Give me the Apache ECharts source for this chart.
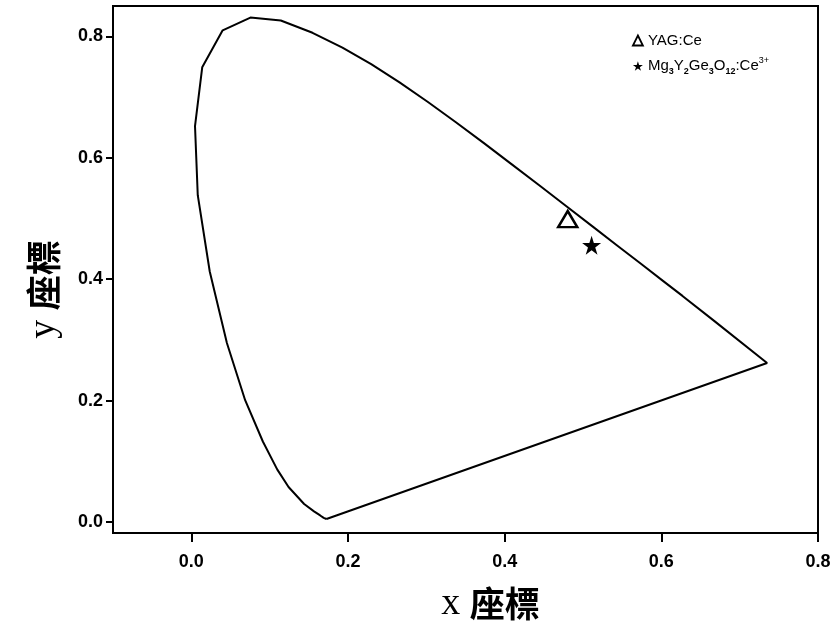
<!DOCTYPE html>
<html>
<head>
<meta charset="utf-8">
<script src="https://cdn.jsdelivr.net/npm/echarts@6/dist/echarts.min.js"></script>
<style>html,body{margin:0;padding:0;background:#fff}#c{width:837px;height:637px}</style>
</head>
<body>
<div id="c"></div>
<script>
// Chromaticity locus outline (x, y)
const locusX = [0.1725, 0.1690, 0.1645, 0.1566, 0.1440, 0.1241, 0.1096, 0.0913, 0.0687, 0.0454, 0.0235, 0.0082, 0.0047, 0.0139, 0.0400, 0.0754, 0.1142, 0.1547, 0.1929, 0.2296, 0.2658, 0.3016, 0.3373, 0.3731, 0.4087, 0.4441, 0.4788, 0.5125, 0.5448, 0.5752, 0.6029, 0.6270, 0.6658, 0.7350, 0.1725];
const locusY = [0.0050, 0.0069, 0.0109, 0.0177, 0.0297, 0.0578, 0.0868, 0.1327, 0.2007, 0.2950, 0.4127, 0.5384, 0.6520, 0.7490, 0.8100, 0.8310, 0.8262, 0.8059, 0.7816, 0.7543, 0.7243, 0.6923, 0.6589, 0.6245, 0.5896, 0.5547, 0.5202, 0.4866, 0.4544, 0.4242, 0.3965, 0.3725, 0.3330, 0.2620, 0.0050];
const seriesNames = ['YAG:Ce', 'Mg3Y2Ge3O12:Ce3+'];
const yagPoint = [0.4805, 0.499];
const mgPoint = [0.511, 0.456];
const xTicks = [0.0, 0.2, 0.4, 0.6, 0.8];
const yTicks = [0.0, 0.2, 0.4, 0.6, 0.8];

const starPath = 'path://M50,0 L61.8,36.3 L100,36.3 L69.1,58.8 L80.9,95.1 L50,72.6 L19.1,95.1 L30.9,58.8 L0,36.3 L38.2,36.3 Z';
const locus = locusX.map((x, i) => [x, locusY[i]]);

const chart = echarts.init(document.getElementById('c'), null, {renderer: 'canvas'});
const tickFont = {fontFamily: 'Liberation Sans, Arial, sans-serif', fontSize: 18, fontWeight: 'bold', color: '#000'};
const nameRich = {
  a: {fontFamily: 'Liberation Serif, serif', fontSize: 38, color: '#000'},
  b: {fontFamily: 'Noto Sans CJK TC', fontSize: 35, fontWeight: 'bold', color: '#000'}
};
chart.setOption({
  animation: false,
  backgroundColor: '#fff',
  grid: {left: 113, right: 19, top: 6, bottom: 104, show: true, borderColor: '#000', borderWidth: 2, backgroundColor: 'transparent'},
  legend: {
    orient: 'vertical', left: 627, top: 28, itemGap: 8, itemWidth: 10, itemHeight: 10,
    data: [
      {name: seriesNames[0], icon: 'triangle', itemStyle: {color: '#fff', borderColor: '#000', borderWidth: 1.8}},
      {name: seriesNames[1], icon: starPath, itemStyle: {color: '#000', borderWidth: 0, opacity: 1}}
    ],
    formatter: function (n) {
      if (n === seriesNames[1]) {
        return '{m|Mg}{s|3}{m|Y}{s|2}{m|Ge}{s|3}{m|O}{s|12}{m|:Ce}{p|3+}';
      }
      return '{m|' + n + '}';
    },
    textStyle: {
      color: '#000', fontFamily: 'Liberation Sans, Arial, sans-serif', fontSize: 15,
      rich: {
        m: {fontSize: 15, fontFamily: 'Liberation Sans, Arial, sans-serif', color: '#000', lineHeight: 20},
        s: {fontSize: 9, fontWeight: 'bold', fontFamily: 'Liberation Sans, Arial, sans-serif', color: '#000', verticalAlign: 'bottom', lineHeight: 20, padding: [6, 0, 0, 0]},
        p: {fontSize: 9, fontFamily: 'Liberation Sans, Arial, sans-serif', color: '#000', verticalAlign: 'top', lineHeight: 20, padding: [0, 0, 6, 0]}
      }
    }
  },
  xAxis: {
    type: 'value', min: -0.1, max: 0.8,
    name: '{a|x }{b|座標}', nameLocation: 'middle', nameGap: 52,
    nameTextStyle: {padding: [0, 0, 0, 50], rich: nameRich},
    axisLine: {show: true, onZero: false, lineStyle: {color: '#000', width: 2}},
    axisTick: {show: true, customValues: xTicks, length: 9, lineStyle: {color: '#000', width: 2}},
    axisLabel: Object.assign({customValues: xTicks, margin: 20, formatter: v => v.toFixed(1)}, tickFont),
    splitLine: {show: false}
  },
  yAxis: {
    type: 'value', min: -0.018, max: 0.85,
    name: '{a|y }{b|座標}', nameLocation: 'middle', nameGap: 50, nameRotate: 90,
    nameTextStyle: {padding: [0, 40, 0, 0], rich: nameRich},
    axisLine: {show: true, onZero: false, lineStyle: {color: '#000', width: 2}},
    axisTick: {show: true, customValues: yTicks, length: 7, lineStyle: {color: '#000', width: 2}},
    axisLabel: Object.assign({customValues: yTicks, margin: 10, formatter: v => v.toFixed(1)}, tickFont),
    splitLine: {show: false}
  },
  series: [
    {
      name: 'locus', type: 'line', data: locus, showSymbol: false, symbol: 'none', smooth: false,
      lineStyle: {color: '#000', width: 2}, silent: true
    },
    {
      name: seriesNames[0], type: 'scatter', data: [yagPoint], symbol: 'triangle', symbolSize: [19, 16],
      itemStyle: {color: '#fff', borderColor: '#000', borderWidth: 2.5, opacity: 1}, z: 5
    },
    {
      name: seriesNames[1], type: 'scatter', data: [mgPoint], symbol: starPath, symbolSize: 19,
      itemStyle: {color: '#000', opacity: 1}, z: 5
    }
  ]
});
</script>
</body>
</html>
